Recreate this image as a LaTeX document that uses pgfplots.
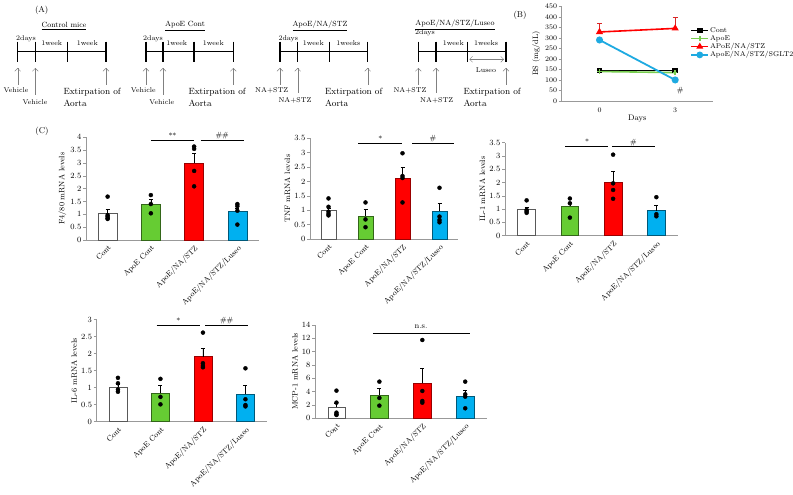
\documentclass[border=0pt]{standalone}
\usepackage{pgfplots}
\pgfplotsset{compat=1.18}
\usetikzlibrary{arrows.meta}
\definecolor{cgreen}{RGB}{102,204,51}
\definecolor{cred}{RGB}{255,0,0}
\definecolor{cblue}{RGB}{0,176,240}
\definecolor{lgreen}{RGB}{120,205,80}
\definecolor{lblue}{RGB}{30,170,225}
\newcommand{\fs}[1]{\fontsize{#1}{#1}\selectfont}
\pgfplotsset{
 barax/.style={scale only axis, clip=false,
  axis x line*=bottom, axis y line*=left,
  axis line style={gray!80, line width=0.7pt},
  xmin=-0.5, xmax=3.5, ymin=0,
  xtick={0,1,2,3},
  xticklabels={Cont,ApoE Cont,ApoE/NA/STZ,ApoE/NA/STZ/Luseo},
  xtick style={draw=none}, ytick style={gray!80, line width=0.5pt},
  tick align=outside, major tick length=3pt,
  xticklabel style={rotate=45, anchor=north east, inner sep=1pt, font=\fs{7.6}},
  yticklabel style={font=\fs{7.6}, inner sep=1.5pt},
  ylabel style={font=\fs{7.8}}, ylabel shift=-1pt},
 cbar/.style={ybar, bar shift=0pt, line width=0.6pt,
  error bars/y dir=plus, error bars/y explicit,
  error bars/error bar style={black, line width=0.5pt},
  error bars/error mark options={rotate=90, mark size=2pt, black, line width=0.5pt}},
 dots/.style={only marks, mark=*, mark size=2pt, black},
}
\begin{document}
\begin{tikzpicture}
\useasboundingbox (0,0) rectangle (793pt,495pt);
% ---------- Panel A schematic ----------
\begin{scope}[x=1pt, y=-1pt, yshift=495pt]
\node[font=\fs{8.5}] at (41.7,10) {(A)};
\node[font=\fs{8.5}] at (42,131) {(C)};
\node[font=\fs{8.5}] at (520,15) {(B)};
% timeline 1
\node[font=\fs{7.5}] at (64,26) {\underline{Control mice}};
\draw[line width=1.4pt] (17.7,51.7) -- (106,51.7);
\foreach \x in {17.7,35.3,67.3,106} \draw[line width=1.4pt] (\x,41.7) -- (\x,61.7);
\node[font=\fs{7}] at (26,39) {2days};
\node[font=\fs{7}] at (51.7,43) {1week};
\node[font=\fs{7}] at (87.3,43) {1week};
\draw[-{Straight Barb[length=3pt]}, gray] (17.7,85) -- (17.7,68);
\draw[-{Straight Barb[length=3pt]}, gray] (35.3,95) -- (35.3,68);
\draw[-{Straight Barb[length=3pt]}, gray] (106,85) -- (106,68);
\node[font=\fs{7}] at (16,90) {Vehicle};
\node[font=\fs{7}] at (35,102) {Vehicle};
\node[font=\fs{9}, anchor=west, inner sep=0pt] at (63.3,92.7) {Extirpation of};
\node[font=\fs{9}, anchor=west, inner sep=0pt] at (63.3,103.5) {Aorta};
% timeline 2
\node[font=\fs{7.5}] at (185,26) {\underline{ApoE Cont}};
\draw[line width=1.4pt] (146,51.7) -- (233.3,51.7);
\foreach \x in {146,163,194,233.3} \draw[line width=1.4pt] (\x,41.7) -- (\x,61.7);
\node[font=\fs{7}] at (153,39) {2days};
\node[font=\fs{7}] at (176.7,43) {1week};
\node[font=\fs{7}] at (213.3,43) {1week};
\draw[-{Straight Barb[length=3pt]}, gray] (146,85) -- (146,68);
\draw[-{Straight Barb[length=3pt]}, gray] (163,95) -- (163,68);
\draw[-{Straight Barb[length=3pt]}, gray] (233.3,85) -- (233.3,68);
\node[font=\fs{7}] at (143.3,90) {Vehicle};
\node[font=\fs{7}] at (161.7,102) {Vehicle};
\node[font=\fs{9}, anchor=west, inner sep=0pt] at (188.3,92.7) {Extirpation of};
\node[font=\fs{9}, anchor=west, inner sep=0pt] at (188.3,103.5) {Aorta};
% timeline 3
\node[font=\fs{7.5}] at (320,26) {\underline{ApoE/NA/STZ}};
\draw[line width=1.4pt] (280,51.7) -- (367.7,51.7);
\foreach \x in {280,297.7,329.3,367.7} \draw[line width=1.4pt] (\x,41.7) -- (\x,61.7);
\node[font=\fs{7}] at (288.3,39) {2days};
\node[font=\fs{7}] at (313.3,43) {1week};
\node[font=\fs{7}] at (348.3,43) {1weeks};
\draw[-{Straight Barb[length=3pt]}, gray] (280,85) -- (280,68);
\draw[-{Straight Barb[length=3pt]}, gray] (297.7,93) -- (297.7,68);
\draw[-{Straight Barb[length=3pt]}, gray] (367.7,85) -- (367.7,68);
\node[font=\fs{7}] at (271.7,90) {NA+STZ};
\node[font=\fs{7}] at (295,100) {NA+STZ};
\node[font=\fs{9}, anchor=west, inner sep=0pt] at (325,92.7) {Extirpation of};
\node[font=\fs{9}, anchor=west, inner sep=0pt] at (325,103.5) {Aorta};
% timeline 4
\node[font=\fs{7.5}] at (455,25) {\underline{ApoE/NA/STZ/Luseo}};
\draw[line width=1.4pt] (418.3,51.7) -- (506,51.7);
\foreach \x in {418.3,436,467.3,506} \draw[line width=1.4pt] (\x,41.7) -- (\x,61.7);
\node[font=\fs{7}] at (425,33) {2days};
\node[font=\fs{7}] at (453.3,43) {1week};
\node[font=\fs{7}] at (486,43) {1weeks};
\draw[{Straight Barb[length=3pt]}-{Straight Barb[length=3pt]}, gray] (469.3,59.3) -- (504,59.3);
\node[font=\fs{7}] at (486,70) {Luseo};
\draw[-{Straight Barb[length=3pt]}, gray] (418.3,85) -- (418.3,68);
\draw[-{Straight Barb[length=3pt]}, gray] (436,93) -- (436,68);
\draw[-{Straight Barb[length=3pt]}, gray] (506,85) -- (506,68);
\node[font=\fs{7}] at (410,90) {NA+STZ};
\node[font=\fs{7}] at (436.7,100) {NA+STZ};
\node[font=\fs{9}, anchor=west, inner sep=0pt] at (463.3,92.7) {Extirpation of};
\node[font=\fs{9}, anchor=west, inner sep=0pt] at (463.3,103.5) {Aorta};
\end{scope}

% ---------- Panel B ----------
\begin{axis}[scale only axis, at={(561.7pt,394pt)}, width=151.3pt, height=94.7pt,
  clip=false, axis x line*=bottom, axis y line*=left,
  axis line style={gray!80, line width=0.7pt},
  xmin=-1.5, xmax=4.5, ymin=0, ymax=450,
  xtick={0,3}, ytick={0,50,...,450},
  xtick style={draw=none}, ytick style={gray!80},
  tick align=outside, major tick length=3pt,
  xticklabel style={font=\fs{7.5}}, yticklabel style={font=\fs{7.3}, inner sep=1.5pt},
  xlabel={Days}, ylabel={BS (mg/dL)},
  xlabel style={font=\fs{8}, yshift=4pt}, ylabel style={font=\fs{7.8}}, ylabel shift=0pt,
  legend style={draw=none, fill=none, at={(0.85,0.79)}, anchor=north west,
    font=\fs{7}, inner sep=0pt, row sep=-0.5pt, nodes={inner sep=1pt}},
  legend cell align=left,
  legend image post style={line width=1.5pt}]
\addplot[black, line width=1.6pt, mark=square*, mark size=2pt] coordinates {(0,145) (3,145)};
\addlegendentry{Cont}
\addplot[lgreen, line width=1.6pt, mark=+, mark size=2.2pt] coordinates {(0,140) (3,135)};
\addlegendentry{ApoE}
\addplot[cred, line width=1.6pt, mark=triangle*, mark size=2.6pt,
  error bars/y dir=plus, error bars/y explicit,
  error bars/error bar style={cred!70!gray, line width=0.5pt},
  error bars/error mark options={rotate=90, mark size=2.5pt, cred!70!gray, line width=0.5pt}]
  coordinates {(0,328) +- (0,42) (3,345) +- (0,53)};
\addlegendentry{APoE/NA/STZ}
\addplot[lblue, line width=1.8pt, mark=*, mark size=2.6pt] coordinates {(0,290) (3,100)};
\addlegendentry{ApoE/NA/STZ/SGLT2}
\node[font=\fs{7.5}] at (axis cs:3.2,50) {\#};
\end{axis}

% ---------- F4/80 ----------
\begin{axis}[barax, at={(86pt,255pt)}, width=173pt, height=102.7pt, ymax=4,
  ytick={0,0.5,...,4}, ylabel={F4/80 mRNA levels}]
\addplot[cbar, bar width=19pt, fill=white, draw=gray!70!black] coordinates {(0,1.04) +- (0,0.15)};
\addplot[cbar, bar width=19pt, fill=cgreen, draw=cgreen!50!black] coordinates {(1,1.39) +- (0,0.19)};
\addplot[cbar, bar width=19pt, fill=cred, draw=cred!60!black] coordinates {(2,2.99) +- (0,0.39)};
\addplot[cbar, bar width=19pt, fill=cblue, draw=cblue!50!black] coordinates {(3,1.12) +- (0,0.11)};
\addplot[dots] coordinates {(0,1.69) (0,0.97) (0,0.91) (0,0.85) (0,0.82)
 (1,1.75) (1,1.40) (1,1.04) (2,3.64) (2,3.55) (2,2.69) (2,2.09)
 (3,1.40) (3,1.32) (3,1.14) (3,0.60)};
\draw[line width=0.6pt] (axis cs:1,3.9) -- (axis cs:1.99,3.9);
\draw[line width=0.6pt] (axis cs:2.15,3.9) -- (axis cs:3.15,3.9);
\node[font=\fs{7.5}] at (axis cs:1.5,4.06) {**};
\node[font=\fs{7.5}] at (axis cs:2.65,4.06) {\#\#};
\end{axis}

% ---------- TNF ----------
\begin{axis}[barax, at={(310pt,256pt)}, width=148pt, height=100.7pt, ymax=3.5,
  ytick={0,0.5,...,3.5}, ylabel={TNF mRNA levels}]
\addplot[cbar, bar width=15pt, fill=white, draw=gray!70!black] coordinates {(0,0.99) +- (0,0.09)};
\addplot[cbar, bar width=15pt, fill=cgreen, draw=cgreen!50!black] coordinates {(1,0.80) +- (0,0.24)};
\addplot[cbar, bar width=15pt, fill=cred, draw=cred!60!black] coordinates {(2,2.12) +- (0,0.36)};
\addplot[cbar, bar width=15pt, fill=cblue, draw=cblue!50!black] coordinates {(3,0.97) +- (0,0.27)};
\addplot[dots] coordinates {(0,1.41) (0,1.12) (0,0.95) (0,0.87) (0,0.82)
 (1,1.27) (1,0.68) (1,0.41) (2,2.98) (2,2.19) (2,2.12) (2,1.27)
 (3,1.78) (3,0.78) (3,0.66) (3,0.58)};
\draw[line width=0.6pt] (axis cs:0.8,3.33) -- (axis cs:1.99,3.33);
\draw[line width=0.6pt] (axis cs:2.26,3.33) -- (axis cs:3.39,3.33);
\node[font=\fs{7.5}] at (axis cs:1.4,3.5) {*};
\node[font=\fs{7.5}] at (axis cs:2.82,3.48) {\#};
\end{axis}

% ---------- IL-1 ----------
\begin{axis}[barax, at={(505pt,259.3pt)}, width=173pt, height=93pt, ymax=3.5,
  ytick={0,0.5,...,3.5}, ylabel={IL-1 mRNA levels}]
\addplot[cbar, bar width=17.7pt, fill=white, draw=gray!70!black] coordinates {(0,0.99) +- (0,0.08)};
\addplot[cbar, bar width=17.7pt, fill=cgreen, draw=cgreen!50!black] coordinates {(1,1.12) +- (0,0.12)};
\addplot[cbar, bar width=17.7pt, fill=cred, draw=cred!60!black] coordinates {(2,2.02) +- (0,0.41)};
\addplot[cbar, bar width=17.7pt, fill=cblue, draw=cblue!50!black] coordinates {(3,0.94) +- (0,0.20)};
\addplot[dots] coordinates {(0,1.33) (0,0.97) (0,0.92) (0,0.86)
 (1,1.40) (1,1.22) (1,0.68) (2,3.05) (2,1.97) (2,1.72) (2,1.39)
 (3,1.45) (3,0.81) (3,0.73)};
\draw[line width=0.6pt] (axis cs:0.89,3.35) -- (axis cs:1.88,3.35);
\draw[line width=0.6pt] (axis cs:1.97,3.35) -- (axis cs:2.97,3.35);
\node[font=\fs{7.5}] at (axis cs:1.4,3.52) {*};
\node[font=\fs{7.5}] at (axis cs:2.47,3.5) {\#};
\end{axis}

% ---------- IL-6 ----------
\begin{axis}[barax, at={(96.7pt,73.3pt)}, width=170pt, height=102pt, ymax=3,
  ytick={0,0.5,...,3}, ylabel={IL-6 mRNA levels}]
\addplot[cbar, bar width=18pt, fill=white, draw=gray!70!black] coordinates {(0,1.01) +- (0,0.08)};
\addplot[cbar, bar width=18pt, fill=cgreen, draw=cgreen!50!black] coordinates {(1,0.83) +- (0,0.23)};
\addplot[cbar, bar width=18pt, fill=cred, draw=cred!60!black] coordinates {(2,1.91) +- (0,0.25)};
\addplot[cbar, bar width=18pt, fill=cblue, draw=cblue!50!black] coordinates {(3,0.80) +- (0,0.26)};
\addplot[dots] coordinates {(0,1.29) (0,1.13) (0,0.95) (0,0.88)
 (1,1.26) (1,0.73) (1,0.51) (2,2.62) (2,1.72) (2,1.64) (2,1.60)
 (3,1.57) (3,0.66) (3,0.49) (3,0.45)};
\draw[line width=0.6pt] (axis cs:0.91,2.84) -- (axis cs:1.93,2.84);
\draw[line width=0.6pt] (axis cs:2.05,2.84) -- (axis cs:3.07,2.84);
\node[font=\fs{7.5}] at (axis cs:1.42,2.98) {*};
\node[font=\fs{7.5}] at (axis cs:2.56,2.97) {\#\#};
\end{axis}

% ---------- MCP-1 ----------
\begin{axis}[barax, at={(315pt,76.7pt)}, width=171.7pt, height=93.3pt, ymax=14,
  ytick={0,2,...,14}, ylabel={MCP-1 mRNA levels}]
\addplot[cbar, bar width=17.3pt, fill=white, draw=gray!70!black] coordinates {(0,1.65) +- (0,0.55)};
\addplot[cbar, bar width=17.3pt, fill=cgreen, draw=cgreen!50!black] coordinates {(1,3.5) +- (0,1.0)};
\addplot[cbar, bar width=17.3pt, fill=cred, draw=cred!60!black] coordinates {(2,5.25) +- (0,2.2)};
\addplot[cbar, bar width=17.3pt, fill=cblue, draw=cblue!50!black] coordinates {(3,3.3) +- (0,0.9)};
\addplot[dots] coordinates {(0,4.15) (0,2.35) (0,0.85) (0,0.6) (0,0.5)
 (1,5.5) (1,3.05) (1,1.9) (2,11.75) (2,4.1) (2,2.6) (2,2.35)
 (3,5.5) (3,3.6) (3,3.25) (3,1.5)};
\draw[line width=0.6pt] (axis cs:0.85,12.75) -- (axis cs:3.1,12.75);
\node[font=\fs{8}] at (axis cs:1.97,13.7) {n.s.};
\end{axis}
\end{tikzpicture}
\end{document}
